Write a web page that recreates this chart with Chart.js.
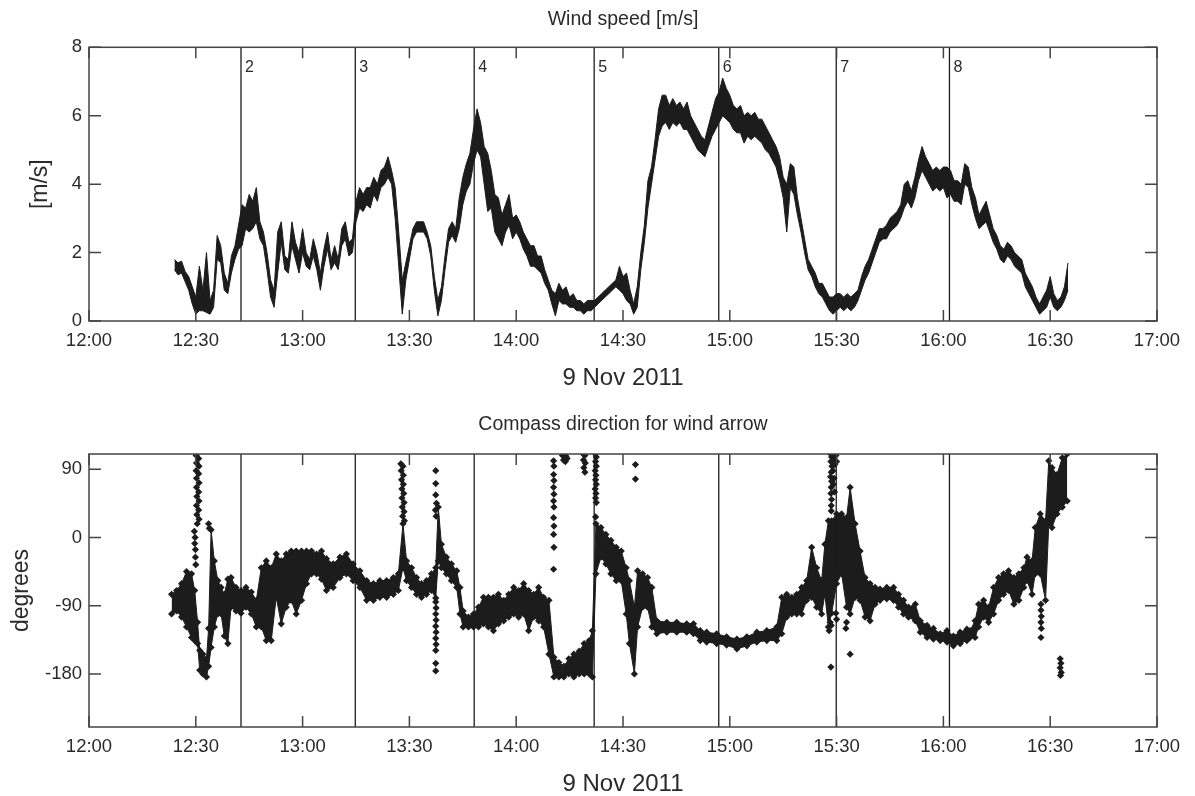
<!DOCTYPE html>
<html>
<head>
<meta charset="utf-8">
<title>Wind speed and compass direction, 9 Nov 2011</title>
<script src="https://cdn.jsdelivr.net/npm/chart.js@4.4.1/dist/chart.umd.min.js"></script>
<style>
  html, body { margin: 0; padding: 0; background: #fff; }
  #wrap { position: relative; width: 1195px; height: 796px; overflow: hidden; }
  canvas { position: absolute; left: 0; }
  #speedChart { top: 0; }
  #dirChart { top: 400px; }
</style>
</head>
<body>
<div id="wrap">
  <canvas id="speedChart" width="1195" height="400"></canvas>
  <canvas id="dirChart" width="1195" height="396"></canvas>
</div>
<script>
/* global Chart */

// x is minutes after 12:00 on 9 Nov 2011
const timeTicks = [0, 30, 60, 90, 120, 150, 180, 210, 240, 270, 300];
const timeTickLabels = ['12:00', '12:30', '13:00', '13:30', '14:00', '14:30', '15:00', '15:30', '16:00', '16:30', '17:00'];
const speedTicks = [0, 2, 4, 6, 8];
const degTicks = [-180, -90, 0, 90];

// numbered markers
const eventTimes = [42.7, 74.8, 108.2, 141.9, 176.9, 209.9, 241.7];
const eventLabels = ['2', '3', '4', '5', '6', '7', '8'];

// wind speed band (bottom / top of the noisy trace), one sample per minute from 12:24
const speedStart = 24;
const windLow = [
  1.5, 1.35, 1.4, 1.15, 0.9, 0.5, 0.2, 0.3, 0.3, 0.25,
  0.2, 0.4, 1.8, 1.7, 0.9, 0.8, 1.4, 1.8, 2.1, 2.2,
  2.7, 2.6, 2.7, 2.9, 2.4, 2.2, 1.5, 0.7, 0.4, 1.4,
  2.3, 1.5, 1.4, 2.2, 1.8, 1.4, 2.0, 1.6, 1.5, 1.9,
  1.5, 0.9, 1.6, 2.1, 1.5, 1.7, 1.5, 2.2, 2.4, 1.9,
  2.0, 2.9, 3.3, 3.2, 3.4, 3.3, 3.7, 3.5, 3.9, 4.0,
  4.2, 4.0, 3.0, 1.6, 0.2, 1.2, 1.8, 2.4, 2.6, 2.6,
  2.6, 2.4, 1.9, 0.9, 0.15, 0.6, 1.5, 2.3, 2.5, 2.3,
  2.7, 3.4, 3.8, 4.0, 4.6, 5.0, 4.8, 4.0, 3.2, 3.3,
  2.6, 2.4, 2.2, 2.6, 2.8, 2.4, 2.6, 2.4, 2.1, 1.9,
  1.6, 1.6, 1.5, 1.4, 1.1, 0.9, 0.5, 0.15, 0.6, 0.5,
  0.5, 0.4, 0.4, 0.3, 0.3, 0.2, 0.3, 0.3, 0.4, 0.5,
  0.6, 0.7, 0.8, 0.9, 1.0, 0.9, 0.8, 0.6, 0.5, 0.2,
  0.4, 1.5, 2.3, 3.3, 4.0, 4.7, 5.4, 5.7, 5.8, 5.6,
  5.8, 5.7, 5.8, 5.6, 5.6, 5.4, 5.2, 5.0, 4.9, 4.8,
  5.1, 5.4, 5.6, 5.8, 6.0, 5.9, 5.8, 5.6, 5.5, 5.5,
  5.2, 5.4, 5.3, 5.4, 5.3, 5.2, 5.0, 4.9, 4.7, 4.5,
  4.1, 3.6, 2.6, 3.9, 3.7, 3.1, 2.6, 2.0, 1.5, 1.3,
  1.0, 0.8, 0.7, 0.5, 0.3, 0.2, 0.3, 0.4, 0.3, 0.4,
  0.3, 0.4, 0.6, 0.9, 1.2, 1.4, 1.7, 2.0, 2.3, 2.4,
  2.4, 2.6, 2.7, 2.8, 3.0, 3.3, 3.5, 3.3, 3.6, 4.1,
  4.4, 4.2, 4.0, 3.8, 3.9, 3.8, 3.9, 3.6, 3.7, 3.5,
  3.5, 3.4, 4.0, 3.9, 3.4, 3.0, 2.7, 2.8, 2.9, 2.6,
  2.3, 2.1, 1.8, 1.7, 1.9, 1.8, 1.6, 1.5, 1.4, 1.0,
  0.8, 0.6, 0.4, 0.2, 0.3, 0.4, 0.7, 0.4, 0.3, 0.4,
  0.6, 0.9,
];
const windHigh = [
  1.8, 1.7, 1.75, 1.45, 1.3, 1.0, 0.7, 1.6, 0.9, 2.0,
  0.6, 0.9, 2.5, 2.2, 1.4, 1.1, 1.9, 2.2, 2.8, 3.4,
  3.3, 3.7, 3.5, 3.9, 2.9, 2.6, 2.0, 1.2, 0.9, 2.6,
  2.9, 1.9, 1.8, 2.9, 2.3, 2.0, 2.7, 2.0, 1.8, 2.4,
  2.0, 1.4, 2.1, 2.6, 1.8, 2.2, 1.8, 2.7, 2.9, 2.3,
  2.4, 3.5, 3.9, 3.7, 3.9, 3.9, 4.2, 4.0, 4.4, 4.5,
  4.8, 4.4, 3.9, 2.6, 1.2, 1.7, 2.2, 2.7, 2.9, 2.9,
  2.9, 2.6, 2.2, 1.3, 0.6, 1.0, 1.9, 2.7, 2.9, 2.7,
  3.6, 4.2, 4.6, 4.9, 5.6, 6.2, 5.8, 5.1, 4.9, 4.4,
  3.7, 3.6, 3.1, 3.4, 3.7, 3.0, 3.1, 2.9, 2.6, 2.4,
  2.2, 2.2, 1.9, 1.9, 1.5, 1.2, 0.9, 0.8, 1.1, 0.9,
  1.0, 0.7, 0.8, 0.6, 0.6, 0.5, 0.6, 0.6, 0.6, 0.7,
  0.8, 0.9, 1.0, 1.1, 1.2, 1.6, 1.3, 1.4, 0.9, 0.5,
  1.0, 2.0, 2.8, 4.1, 4.5, 5.3, 6.2, 6.6, 6.6, 6.3,
  6.5, 6.3, 6.4, 6.2, 6.4, 6.0, 5.8, 5.6, 5.4, 5.3,
  5.7, 6.1, 6.5, 6.7, 7.1, 6.8, 6.6, 6.3, 6.2, 6.3,
  6.0, 6.1, 6.0, 6.1, 5.9, 5.9, 5.7, 5.5, 5.3, 5.1,
  4.8, 4.2, 4.0, 4.6, 4.5, 3.6, 3.0, 2.4, 1.8, 1.6,
  1.4, 1.1, 1.1, 0.9, 0.7, 0.7, 0.8, 0.8, 0.7, 0.8,
  0.7, 0.8, 0.9, 1.3, 1.6, 1.8, 2.1, 2.4, 2.7, 2.7,
  2.8, 3.0, 3.1, 3.2, 3.4, 4.0, 4.1, 3.8, 4.2, 4.7,
  5.1, 4.8, 4.6, 4.4, 4.5, 4.4, 4.5, 4.5, 4.4, 4.1,
  4.1, 4.0, 4.6, 4.5, 3.9, 3.6, 3.1, 3.3, 3.5, 3.1,
  2.7, 2.5, 2.2, 2.1, 2.3, 2.2, 2.0, 1.9, 1.8, 1.4,
  1.2, 1.0, 0.7, 0.5, 0.7, 0.9, 1.3, 0.8, 0.6, 0.7,
  1.0, 1.7,
];

// compass direction band (degrees)
const dirTime = [
  23.2, 24.6, 26, 27.4, 28.8, 29.7, 30.5, 31.1, 32, 33, 33.6, 34.3, 35.2, 36.2, 37.1, 38, 39, 39.9,
  41.3, 42.7, 44.1, 45.6, 47, 48.4, 49.8, 51.2, 52.6, 54, 55.4, 56.8, 58.2, 59.7, 61.1, 62.5, 63.9,
  65.3, 66.7, 68.6, 70.5, 72.3, 74.2, 76.1, 78, 79.9, 81.7, 83.6, 85.5, 86.9, 88.2, 89.2, 90.6, 92,
  93.4, 94.8, 96.2, 97.4, 98.1, 99, 100.4, 101.8, 103.3, 104.2, 105.1, 106.6, 108, 109.4, 110.8,
  112.2, 113.6, 115, 116.5, 117.9, 119.3, 120.7, 122.1, 123.5, 124.9, 126.3, 127.7, 129.2, 130.6,
  132, 133.4, 134.8, 136.2, 137.7, 139.1, 140.5, 141.4, 142.4, 143.8, 145.2, 146.6, 148.1, 149.5,
  150.9, 151.8, 153.2, 154.1, 155.5, 156.9, 158.1, 159.5, 162.3, 165.1, 167.9, 169.8, 171.7, 173.5,
  176.3, 179.1, 182, 184.8, 187.6, 190.4, 193.2, 194.6, 196, 197.4, 198.8, 200.2, 201.6, 203, 204.4,
  205.8, 206.7, 207.7, 208.6, 210, 211.4, 212.8, 213.8, 215.2, 216.6, 218, 219.4, 220.8, 222.2,
  224.1, 226, 227.4, 228.8, 230.2, 232.1, 233.5, 235.4, 237.2, 239.1, 241, 242.8, 244.7, 246.6,
  247.5, 248.9, 249.9, 251.3, 252.7, 254.1, 255.5, 256.9, 258.3, 259.8, 261.2, 262.6, 263.5, 264.9,
  265.8, 267.2, 268.7, 269.6, 270.5, 271.9, 273.4, 274.8,
];
const dirLow = [
  -101, -97, -105, -118, -132, -136, -140, -175, -180, -184, -170, -145, -118, -101, -101, -130, -140, -92,
  -97, -100, -92, -101, -118, -118, -136, -136, -79, -114, -92, -83, -101, -83, -61, -48, -48,
  -55, -70, -66, -53, -48, -57, -66, -83, -83, -79, -79, -75, -70, -40, -57, -66, -75,
  -79, -75, -70, -80, -31, -40, -48, -57, -66, -101, -118, -118, -118, -118, -114,
  -118, -123, -114, -110, -105, -101, -105, -101, -123, -105, -110, -118, -154, -184,
  -184, -184, -180, -184, -180, -180, -180, -184, -48, -26, -35, -48, -57, -57,
  -101, -140, -180, -118, -92, -92, -118, -127, -125, -125, -125, -127, -136, -138,
  -140, -142, -147, -143, -138, -136, -136, -127, -105, -101, -101, -101, -83, -79, -92,
  -101, -75, -118, -100, -61, -48, -92, -101, -79, -83, -105, -110, -88, -83,
  -81, -83, -92, -101, -105, -110, -125, -132, -134, -136, -138, -143, -140, -136,
  -132, -132, -118, -105, -112, -101, -83, -75, -70, -88, -83, -66, -57, -75,
  -48, -48, -83, 18, 13, 31, 40, 48,
];
const dirHigh = [
  -75, -70, -61, -45, -48, -70, -112, -149, -154, -160, -120, 10, -31, -57, -66, -75, -55, -53,
  -66, -70, -66, -72, -83, -40, -31, -40, -22, -31, -22, -18, -18, -18, -18, -18, -22,
  -18, -28, -35, -26, -22, -35, -44, -57, -61, -57, -57, -53, -48, 18, -31, -40, -53,
  -61, -57, -48, -40, 40, -9, -26, -35, -44, -66, -97, -105, -101, -92, -79,
  -79, -79, -75, -83, -75, -66, -70, -61, -70, -75, -66, -79, -83, -158,
  -165, -170, -160, -154, -150, -140, -136, -123, 18, 13, 4, -4, -13, -18,
  -40, -57, -92, -44, -48, -53, -66, -110, -112, -112, -114, -114, -123, -125,
  -127, -131, -134, -131, -125, -123, -118, -79, -75, -79, -75, -66, -57, -13, -40,
  -57, -9, 22, 22, 31, 31, 26, 66, 18, -18, -53, -61, -66, -68,
  -66, -66, -75, -83, -92, -88, -110, -116, -120, -127, -123, -130, -125, -121,
  -123, -110, -88, -83, -92, -66, -53, -48, -44, -53, -48, -40, -26, -31,
  13, 31, 22, 101, 92, 83, 105, 110,
];

// isolated points and thin vertical streaks of the direction trace
const strayTime = [
  30.1, 30.8, 30.2, 30.9, 30.1, 30.8, 30.2, 30.9, 30.2, 30.8, 30.3, 30.9, 30.2, 30.8, 30.3, 30.9, 30.4,
  29.6, 29.8, 29.7, 29.9, 29.9, 30.0, 33.6, 33.8,
  87.6, 88.2, 87.7, 88.3, 87.8, 88.3, 87.9, 88.4, 87.9, 88.5, 88.0, 88.5, 88.1, 88.6,
  97.4, 97.4, 97.4, 97.6, 97.3, 97.5, 97.4, 97.5, 97.4, 97.5, 97.4, 97.5, 97.4, 97.5, 97.4, 97.4, 97.4,
  130.5, 130.6, 130.5, 130.6, 130.5, 130.6, 130.5, 130.6, 130.5, 130.6, 130.5, 130.6, 130.5,
  133.0, 133.5, 134.0, 133.3, 133.8, 134.3,
  138.8, 139.3, 138.9, 139.4, 139.0, 139.3,
  142.2, 142.5, 142.3, 142.5, 142.2, 142.4, 142.3, 142.5, 142.2, 142.4, 142.3, 142.5, 142.3,
  153.5, 153.5,
  208.3, 208.6, 208.4, 208.7, 208.5, 208.3, 208.6, 208.5, 208.4, 208.6, 208.5, 208.5,
  209.2, 209.5, 209.0, 209.3, 209.1, 209.4, 209.8, 210.0,
  207.9, 208.2, 208.5, 208.4, 210.0, 209.8, 212.6, 212.8, 213.8,
  267.4, 267.4, 267.5, 267.4, 267.5, 267.4,
  272.8, 273.0, 272.8, 273.1, 272.9,
];
const strayDeg = [
  108, 104, 98, 94, 88, 84, 78, 72, 66, 60, 54, 48, 42, 36, 30, 24, 18,
  8, 0, -8, -16, -26, -36, 18, 12,
  97, 94, 88, 82, 76, 70, 64, 58, 52, 46, 40, 34, 28, 22,
  88, 71, 56, 45, 36, 28, -85, -93, -101, -109, -117, -125, -133, -141, -149, -166, -176,
  101, 94, 83, 75, 66, 57, 48, 40, 26, 15, 4, -13, -42,
  108, 110, 107, 102, 100, 104,
  110, 108, 102, 98, 92, 86,
  110, 106, 100, 94, 88, 82, 76, 70, 64, 58, 52, 46, 27,
  96, 77,
  110, 106, 100, 94, 86, 80, 74, 66, 58, 50, 42, 35,
  104, 96, 88, 78, 70, 60, 108, 100,
  -123, -112, -116, -171, -108, -100, -120, -112, -154,
  -88, -96, -104, -112, -120, -132,
  -160, -166, -172, -178, -182,
];

const ink = '#1c1c1c';
const textColor = '#2a2a2a';
Chart.defaults.font.family = '"Liberation Sans", Arial, Helvetica, sans-serif';
Chart.defaults.color = textColor;

// box round the plot with inward ticks on all four sides
const frame = {
  id: 'frame',
  afterDraw(chart) {
    const { ctx, chartArea: a, scales: { x, y } } = chart;
    ctx.save();
    ctx.strokeStyle = '#444';
    ctx.lineWidth = 1.5;
    ctx.strokeRect(a.left, a.top, a.right - a.left, a.bottom - a.top);
    ctx.beginPath();
    x.ticks.forEach((t) => {
      const px = x.getPixelForValue(t.value);
      ctx.moveTo(px, a.bottom);
      ctx.lineTo(px, a.bottom - 11);
      ctx.moveTo(px, a.top);
      ctx.lineTo(px, a.top + 11);
    });
    y.ticks.forEach((t) => {
      const py = y.getPixelForValue(t.value);
      ctx.moveTo(a.left, py);
      ctx.lineTo(a.left + 12, py);
      ctx.moveTo(a.right, py);
      ctx.lineTo(a.right - 12, py);
    });
    ctx.stroke();
    ctx.restore();
  },
};

function eventLines(showLabels) {
  return {
    id: 'eventLines',
    afterDatasetsDraw(chart) {
      const { ctx, chartArea: a, scales: { x } } = chart;
      ctx.save();
      ctx.strokeStyle = ink;
      ctx.lineWidth = 1.3;
      ctx.fillStyle = textColor;
      ctx.font = '16px "Liberation Sans", Arial, sans-serif';
      ctx.textBaseline = 'top';
      eventTimes.forEach((t, i) => {
        const px = x.getPixelForValue(t);
        ctx.beginPath();
        ctx.moveTo(px, a.top);
        ctx.lineTo(px, a.bottom);
        ctx.stroke();
        if (showLabels) ctx.fillText(eventLabels[i], px + 4, a.top + 12);
      });
      ctx.restore();
    },
  };
}

function timeAxis(axisHeight, titlePad) {
  return {
    type: 'linear',
    min: 0,
    max: 300,
    grid: { display: false, drawTicks: false },
    border: { display: false },
    afterBuildTicks: (s) => { s.ticks = timeTicks.map((v) => ({ value: v })); },
    afterFit: (s) => { s.height = axisHeight; },
    ticks: {
      padding: 9,
      autoSkip: false,
      maxRotation: 0,
      font: { size: 18.5 },
      callback: (v) => timeTickLabels[timeTicks.indexOf(v)],
    },
    title: {
      display: true,
      text: '9 Nov 2011',
      font: { size: 24, lineHeight: 1 },
      padding: { top: 0, bottom: titlePad },
    },
  };
}

function valueAxis(min, max, tickValues, label, titlePad) {
  return {
    min: min,
    max: max,
    grid: { display: false, drawTicks: false },
    border: { display: false },
    afterBuildTicks: (s) => { s.ticks = tickValues.map((v) => ({ value: v })); },
    afterFit: (s) => { s.width = 89; },
    ticks: { padding: 7, autoSkip: false, font: { size: 18.5 } },
    title: {
      display: true,
      text: label,
      font: { size: 23 },
      padding: { top: titlePad, bottom: 0 },
    },
  };
}

const speedLowPts = windLow.map((v, i) => ({ x: speedStart + i, y: v }));
const speedHighPts = windHigh.map((v, i) => ({ x: speedStart + i, y: v }));
const dirLowPts = dirTime.map((t, i) => ({ x: t, y: dirLow[i] }));
const dirHighPts = dirTime.map((t, i) => ({ x: t, y: dirHigh[i] }));
const strayPts = strayTime.map((t, i) => ({ x: t, y: strayDeg[i] }));

new Chart(document.getElementById('speedChart'), {
  type: 'line',
  data: {
    datasets: [
      { data: speedLowPts, borderColor: ink, borderWidth: 1, pointRadius: 0, fill: false, tension: 0 },
      { data: speedHighPts, borderColor: ink, borderWidth: 1, pointRadius: 0, fill: '-1', backgroundColor: ink, tension: 0 },
    ],
  },
  options: {
    responsive: false,
    animation: false,
    events: [],
    layout: { padding: { left: 0, right: 38, top: 0, bottom: 0 } },
    scales: {
      x: timeAxis(79, 10),
      y: valueAxis(0, 8, speedTicks, '[m/s]', 27),
    },
    plugins: {
      legend: { display: false },
      tooltip: { enabled: false },
      title: {
        display: true,
        fullSize: false,
        text: 'Wind speed [m/s]',
        color: textColor,
        font: { size: 19.5, weight: 'normal', lineHeight: 1.2 },
        padding: { top: 8.3, bottom: 15.6 },
      },
    },
  },
  plugins: [frame, eventLines(true)],
});

const diamond = { pointStyle: 'rectRot', pointRadius: 3.6, pointBackgroundColor: ink, pointBorderWidth: 0 };

new Chart(document.getElementById('dirChart'), {
  type: 'line',
  data: {
    datasets: [
      { data: dirLowPts, borderColor: ink, borderWidth: 1, fill: false, tension: 0, ...diamond },
      { data: dirHighPts, borderColor: ink, borderWidth: 1, fill: '-1', backgroundColor: ink, tension: 0, ...diamond },
      { data: strayPts, showLine: false, borderColor: ink, ...diamond },
    ],
  },
  options: {
    responsive: false,
    animation: false,
    events: [],
    layout: { padding: { left: 0, right: 38, top: 0, bottom: 0 } },
    scales: {
      x: timeAxis(69, 0),
      y: valueAxis(-250, 110, degTicks, 'degrees', 8),
    },
    plugins: {
      legend: { display: false },
      tooltip: { enabled: false },
      title: {
        display: true,
        fullSize: false,
        text: 'Compass direction for wind arrow',
        color: textColor,
        font: { size: 19.5, weight: 'normal', lineHeight: 1.2 },
        padding: { top: 13.3, bottom: 17.3 },
      },
    },
  },
  plugins: [frame, eventLines(false)],
});
</script>
</body>
</html>
